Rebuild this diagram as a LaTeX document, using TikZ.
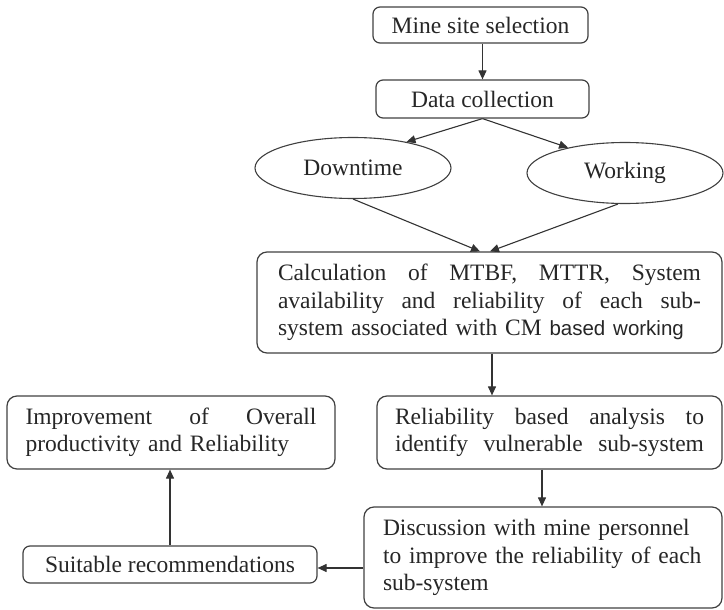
\documentclass[tikz,border=0pt]{standalone}
\usepackage{fontspec}
\setmainfont{Liberation Serif}
\newfontfamily\sansalt{Liberation Sans}
\usetikzlibrary{arrows.meta,shapes.geometric}
\newcommand{\jline}[2]{\leavevmode\hbox to #1{#2}}
\begin{document}
\begin{tikzpicture}[x=1pt,y=-1pt,
  lbl/.style={font=\fontsize{23.5}{27.5}\selectfont, text=black!85},
  box/.style={lbl, draw=black!75, line width=1.2pt, rounded corners=10pt, inner sep=0pt},
  smallbox/.style={box, rounded corners=7pt},
  oval/.style={lbl, draw=black!75, line width=1.1pt, ellipse, inner sep=0pt, minimum width=196pt, minimum height=61pt},
  arr/.style={draw=black!80, line width=1.1pt, -{Triangle[length=9pt,width=8pt]}}]
\useasboundingbox (0,0) rectangle (724,610);

\node[smallbox, minimum width=215pt, minimum height=36pt] (mine) at (480.5,25) {Mine site selection};
\node[smallbox, minimum width=213pt, minimum height=38pt] (data) at (482.5,99) {Data collection};
\node[oval] (down) at (353,168) {Downtime};
\node[oval] (work) at (625,173) {Working};

\node[box, minimum width=465pt, minimum height=101pt, text width=423pt, align=left] (calc) at (489.5,302.5)
  {\jline{423pt}{Calculation\hfill of\hfill MTBF,\hfill MTTR,\hfill System}\\
   \jline{423pt}{availability\hfill and\hfill reliability\hfill of\hfill each\hfill sub-}\\
   \mbox{system associated with CM {\sansalt\fontsize{20.5}{27.5}\selectfont based working}}};

\node[box, minimum width=345pt, minimum height=73pt, text width=309pt, align=left] (rel) at (549.5,432.5)
  {\jline{309pt}{Reliability\hfill based\hfill analysis\hfill to}\\
   \jline{309pt}{identify\hfill vulnerable\hfill sub-system}};

\node[box, minimum width=328pt, minimum height=73pt, text width=291pt, align=left] (imp) at (171,432.5)
  {\jline{291pt}{Improvement\hfill of\hfill Overall}\\
   \mbox{productivity and Reliability}};

\node[box, minimum width=358pt, minimum height=101pt, text width=320pt, align=left] (disc) at (543,557.5)
  {\mbox{Discussion with mine personnel}\\
   \mbox{to improve the reliability of each}\\
   \mbox{sub-system}};

\node[smallbox, minimum width=294pt, minimum height=37pt] (suit) at (170,564.5) {Suitable recommendations};

\draw[arr] ([xshift=2pt]mine.south) -- ([xshift=2pt]mine.south |- data.north);
\draw[arr] (data.south) -- (down.26);
\draw[arr] (data.south) -- (work.156);
\draw[arr] (down.south) -- ([xshift=-9.5pt]calc.north);
\draw[arr] ([xshift=-7pt]work.south) -- ([xshift=0.5pt]calc.north);
\draw[arr] ([xshift=2.5pt]calc.south) -- ([xshift=2.5pt]calc.south |- rel.north);
\draw[arr] ([xshift=-7.5pt]rel.south) -- ([xshift=-7.5pt]rel.south |- disc.north);
\draw[arr] ([yshift=-10.5pt]disc.west) -- ([yshift=-10.5pt]disc.west -| suit.east);
\draw[arr] (suit.north) -- (suit.north |- imp.south);
\end{tikzpicture}
\end{document}
